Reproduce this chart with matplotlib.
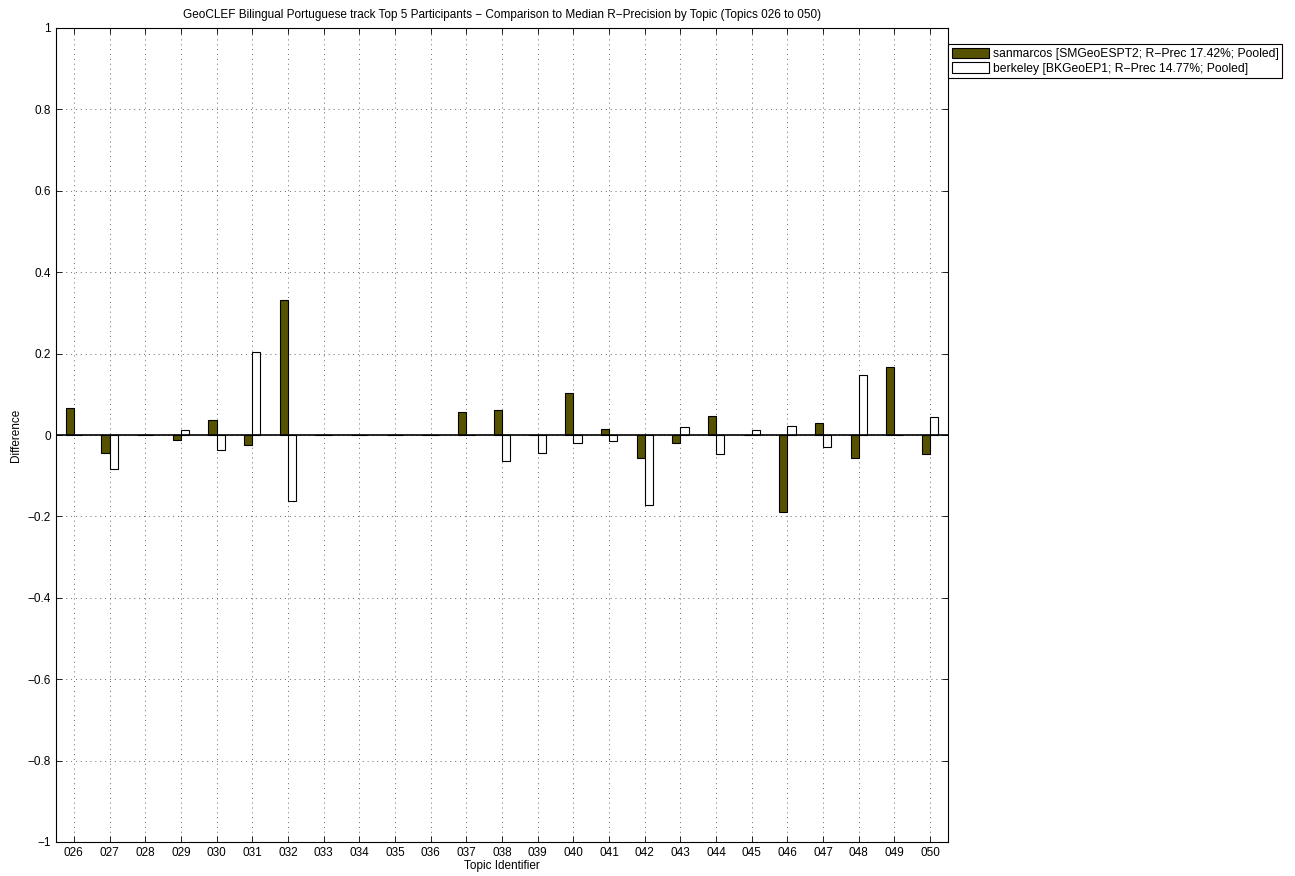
import numpy as np
import matplotlib.pyplot as plt

topics = ['026', '027', '028', '029', '030', '031', '032', '033', '034', '035',
          '036', '037', '038', '039', '040', '041', '042', '043', '044', '045',
          '046', '047', '048', '049', '050']
sanmarcos = [0.066, -0.044, 0.0, -0.012, 0.037, -0.025, 0.332, 0.0, 0.0, 0.0,
             0.0, 0.057, 0.062, 0.0, 0.104, 0.015, -0.057, -0.020, 0.046, 0.0,
             -0.190, 0.030, -0.057, 0.167, -0.046]
berkeley = [0.0, -0.084, 0.0, 0.013, -0.036, 0.205, -0.161, 0.0, 0.0, 0.0,
            0.0, 0.0, -0.063, -0.044, -0.020, -0.014, -0.172, 0.020, -0.047, 0.012,
            0.023, -0.030, 0.148, 0.0, 0.045]
labels = ['sanmarcos [SMGeoESPT2; R\u2212Prec 17.42%; Pooled]',
          'berkeley [BKGeoEP1; R\u2212Prec 14.77%; Pooled]']
yticks = np.round(np.arange(-1, 1.01, 0.2), 1)

plt.rcParams['font.family'] = 'Liberation Sans'
fig = plt.figure(figsize=(12.95, 8.76), dpi=100)
ax = fig.add_axes([56/1295, 1-842/876, 892/1295, 814/876])

x = np.arange(len(topics))
w = 0.23
ax.bar(x - w/2, sanmarcos, w, color='#575200', edgecolor='black', linewidth=0.8,
       label=labels[0], zorder=3)
ax.bar(x + w/2, berkeley, w, color='white', edgecolor='black', linewidth=0.8,
       label=labels[1], zorder=3)
ax.axhline(0, color='black', linewidth=1.2, zorder=4)

ax.set_xlim(-0.5, len(topics) - 0.5)
ax.set_ylim(-1, 1)
ax.set_xticks(x)
ax.set_xticklabels(topics, fontsize=8.5)
ax.set_yticks(yticks)
ax.set_yticklabels(['0' if v == 0 else ('%g' % v).replace('-', '\u2212') for v in yticks],
                   fontsize=8.5)
ax.tick_params(direction='in', top=True, right=True, length=4, width=0.6)
ax.grid(True, linestyle=(0, (1, 4)), color='#666666', linewidth=0.7)
ax.set_axisbelow(True)
for s in ax.spines.values():
    s.set_linewidth(0.8)

ax.set_title('GeoCLEF Bilingual Portuguese track Top 5 Participants \u2212 Comparison to Median R\u2212Precision by Topic (Topics 026 to 050)',
             fontsize=8.5, pad=7)
ax.set_xlabel('Topic Identifier', fontsize=8.5, labelpad=1)
ax.set_ylabel('Difference', fontsize=8.5)

leg = ax.legend(loc='upper left', bbox_to_anchor=(948/1295, 1-44/876),
                bbox_transform=fig.transFigure, borderaxespad=0, fancybox=False,
                edgecolor='black', framealpha=1, fontsize=8.7, handlelength=3.1,
                handleheight=1.0, handletextpad=0.3, borderpad=0.3, labelspacing=0.15)
leg.get_frame().set_linewidth(0.8)

fig.savefig('out.png', dpi=100)
